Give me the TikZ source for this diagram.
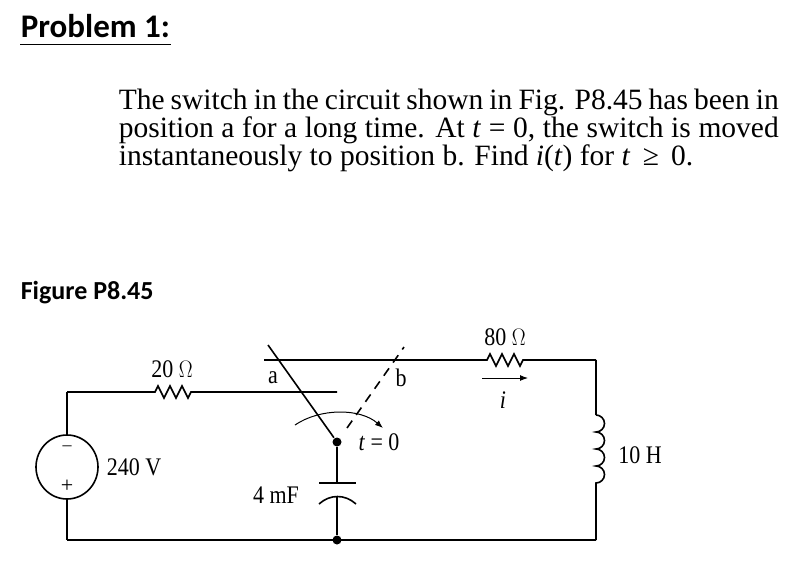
\documentclass[tikz,border=0pt]{standalone}
\usepackage{fontspec}
\setmainfont{Liberation Serif}
\newfontfamily\calfont{Carlito}
\usetikzlibrary{arrows.meta,shapes.geometric}
\begin{document}
\begin{tikzpicture}[x=1pt,y=-1pt,line width=1.6pt,
  lbl/.style={font=\fontsize{22}{22}\selectfont,inner sep=1pt,yscale=1.15},
  dotn/.style={circle,fill,inner sep=0pt,minimum size=9pt}]
\useasboundingbox (0,0) rectangle (806,576);
\node[anchor=base west,inner sep=0] (title) at (20,37) {\calfont\bfseries\fontsize{33}{33}\selectfont Problem 1:};
\draw[line width=1pt] (20,44) -- (171,44);
\node[anchor=north west,inner sep=0,text width=660pt,align=justify] (para) at (118,88)
 {\fontsize{29.5}{37}\selectfont The switch in the circuit shown in Fig. P8.45 has been in position a for a long time. At \textit{t} = 0, the switch is moved instantaneously to position b. Find \textit{i}(\textit{t}) for \textit{t} \,≥\, 0.};
\node[anchor=base west,inner sep=0] (fig) at (20,299) {\calfont\bfseries\fontsize{26}{26}\selectfont Figure P8.45};
% coordinates
\coordinate (tl) at (67,392);
\coordinate (bl) at (67,540);
\coordinate (br) at (596,540);
\coordinate (tr) at (596,360);
\node[dotn] (piv) at (337,442) {};
\node[dotn] (bot) at (337,540) {};
\coordinate (aend) at (337,392);
\coordinate (bstart) at (264,360);
% source
\node[draw,ellipse,minimum width=62pt,minimum height=64pt,inner sep=0,line width=1.6pt] (src) at (67,467) {};
\draw (tl) -- (src.north); \draw (src.south) -- (bl);
\node[font=\fontsize{18}{18}\selectfont] (minus) at (67,448) {--};
\node[font=\fontsize{22}{22}\selectfont] (plus) at (67,486) {+};
\node[lbl] (v) at (134,467) {240 V};
% left branch with 20 ohm
\draw (tl) -- (155,392) -- (158,386) -- (164,398) -- (170,386) -- (176,398) -- (182,386) -- (188,398) -- (191,392) -- (aend);
\node[lbl] (r1) at (172,369) {20 $\Omega$};
% top branch with 80 ohm
\draw (bstart) -- (487,360) -- (490,354) -- (496,366) -- (502,354) -- (508,366) -- (514,354) -- (520,366) -- (523,360) -- (tr);
\node[lbl] (r2) at (505,337) {80 $\Omega$};
\draw[line width=1pt,-{Latex[length=8pt,width=6pt]}] (482,378) -- (528,378);
\node[lbl] (i) at (503,400) {\textit{i}};
% inductor
\draw (tr) -- (596,415);
\draw (596,415) arc[start angle=90,end angle=-90,radius=8.5pt]
  arc[start angle=90,end angle=-90,radius=8.5pt]
  arc[start angle=90,end angle=-90,radius=8.5pt]
  arc[start angle=90,end angle=-90,radius=8.5pt] -- (br);
\node[lbl] (l) at (640,455) {10 H};
% bottom
\draw (bl) -- (br);
% capacitor
\draw (piv) -- (337,483);
\draw (319,483) -- (356,483);
\draw (319,504) .. controls (330,494) and (345,494) .. (356,504);
\draw (337,497) -- (bot);
\node[lbl] (c) at (276,495) {4 mF};
% switch
\draw (piv) -- (268,345);
\draw[dashed,dash pattern=on 9pt off 7pt] (347,428) -- (404,347);
\node[lbl] (a) at (273,378) {a};
\node[lbl] (b) at (401,378) {b};
\node[lbl] (t0) at (379,442) {\textit{t} = 0};
\draw[line width=1pt,-{Latex[length=8pt,width=6pt]}] (295,425) .. controls (320,408) and (360,408) .. (383,428);
\end{tikzpicture}
\end{document}
